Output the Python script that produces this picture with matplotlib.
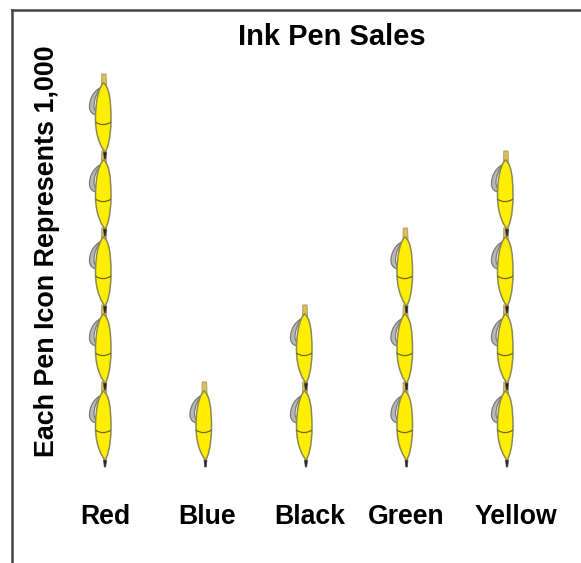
import matplotlib
matplotlib.use("Agg")
import matplotlib.pyplot as plt
from matplotlib.path import Path
from matplotlib.patches import PathPatch
from matplotlib.transforms import Affine2D

colores = ["Red", "Blue", "Black", "Green", "Yellow"]
iconos = [5, 1, 2, 3, 4]

plt.rcParams['font.family'] = ['Liberation Sans', 'DejaVu Sans']

W, H = 581, 563
paso_x = 100.5   # px entre categorias
paso_y = 77.0    # px por icono
x0, y0 = 105, 467   # px de la punta del primer lapiz

# dibujo del lapiz, en px relativos a la punta
cuerpo = Path(
    [(0, 7), (2, 9), (6, 20), (6, 40), (6, 60), (4, 72), (-1.5, 76),
     (-5, 73), (-9.5, 62), (-9.5, 40), (-9.5, 20), (-2, 9), (0, 7)],
    [Path.MOVETO] + [Path.CURVE4] * 12)
clip = Path(
    [(-5, 71), (-11, 68), (-16, 60), (-15.5, 51), (-15, 47), (-12, 44), (-8, 44),
     (-9, 47), (-11, 50), (-11, 53), (-11, 60), (-8, 66), (-5, 71)],
    [Path.MOVETO] + [Path.CURVE4] * 12)
capuchon = Path(
    [(-3.5, 73), (-3.2, 85), (1, 85), (1.5, 72), (-1.5, 76), (-3.5, 73)],
    [Path.MOVETO, Path.LINETO, Path.LINETO, Path.LINETO, Path.LINETO, Path.CLOSEPOLY])
punta = Path(
    [(-1.5, 7), (1.5, 7), (0.7, 0), (-0.7, 0), (-1.5, 7)],
    [Path.MOVETO, Path.LINETO, Path.LINETO, Path.LINETO, Path.CLOSEPOLY])
cinta = Path(
    [(-9.5, 37), (-5, 33.5), (1, 33.5), (6, 37)],
    [Path.MOVETO, Path.CURVE4, Path.CURVE4, Path.CURVE4])


def dibujar_lapiz(ax, i, nivel):
    t = Affine2D().scale(1 / paso_x, 1 / paso_y).translate(i, nivel) + ax.transData
    ax.add_patch(PathPatch(clip, fc="#b8b8b8", ec="#7a7a7a", lw=0.9, transform=t))
    ax.add_patch(PathPatch(capuchon, fc="#e0bf4a", ec="#b0a470", lw=0.8, transform=t))
    ax.add_patch(PathPatch(punta, fc="#222222", ec="#444444", lw=0.5, transform=t))
    ax.add_patch(PathPatch(cuerpo, fc="#ffee00", ec="#8c8a50", lw=1.1, transform=t))
    ax.add_patch(PathPatch(cinta, fc="none", ec="#6f6a20", lw=0.9, transform=t))


fig = plt.figure(figsize=(W / 100, H / 100), dpi=100)
izq, arriba = 12, 10
ax = fig.add_axes([izq / W, 0, 1 - izq / W, 1 - arriba / H])
ax.set_xlim((izq - x0) / paso_x, (W - x0) / paso_x)
ax.set_ylim((y0 - H) / paso_y, (y0 - arriba) / paso_y)
ax.set_xticks([])
ax.set_yticks([])
for lado in ["right", "bottom"]:
    ax.spines[lado].set_visible(False)
for lado in ["left", "top"]:
    ax.spines[lado].set_color("#444444")
    ax.spines[lado].set_linewidth(1.8)

for i, n in enumerate(iconos):
    for nivel in range(n):
        dibujar_lapiz(ax, i, nivel)

# los rotulos no quedan justo bajo cada columna
corrimiento = [0, 2, 4, 0, 9]
for i, nombre in enumerate(colores):
    ax.annotate(nombre, xy=(i, 0), xytext=(corrimiento[i] * 0.72, -49.5 * 0.72),
                textcoords="offset points", ha="center", va="center",
                fontsize=19.2, fontweight="bold", color="black")

fig.text(332 / W, 1 - 37 / H, "Ink Pen Sales", ha="center", va="center",
         fontsize=21, fontweight="bold")
fig.text(47 / W, 1 - 251.5 / H, "Each Pen Icon Represents 1,000", rotation=90,
         ha="center", va="center", fontsize=19.4, fontweight="bold")

fig.savefig("out.png", dpi=100)
